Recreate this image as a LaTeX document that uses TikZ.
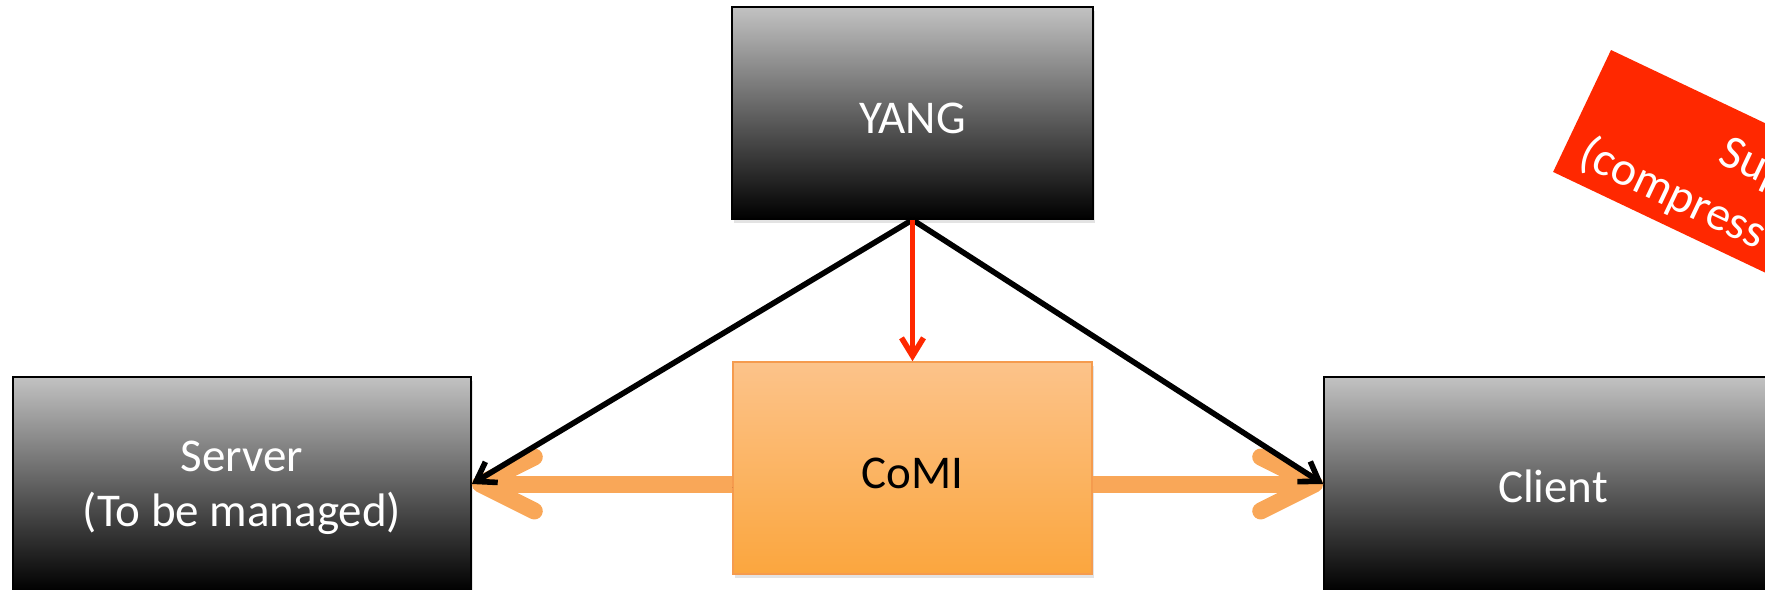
\documentclass[tikz,border=0pt]{standalone}
\usepackage{fontspec}
\setmainfont{Carlito}
\usetikzlibrary{arrows.meta,shadows}

\definecolor{boxtop}{RGB}{194,194,194}
\definecolor{comitop}{RGB}{252,195,138}
\definecolor{comibot}{RGB}{251,166,62}
\definecolor{comiedge}{RGB}{245,155,78}
\definecolor{flow}{RGB}{249,167,88}
\definecolor{alert}{RGB}{255,40,0}

\begin{document}
\begin{tikzpicture}[x=0.5pt,y=-0.5pt,
  boxfont/.style={font=\fontsize{23.5}{27.5}\selectfont},
  softshadow/.style={drop shadow={opacity=0.22, shadow xshift=0.8pt, shadow yshift=-1.8pt}},
  darkbox/.style={boxfont, draw=black, line width=0.8pt, top color=boxtop,
    bottom color=black, text=white, align=center, inner sep=0pt, softshadow},
  comibox/.style={boxfont, draw=comiedge, line width=0.8pt, top color=comitop,
    bottom color=comibot, text=black, align=center, inner sep=0pt, softshadow},
  model/.style={line width=2.8pt, draw=black, -{Straight Barb[length=9pt,width=12pt]}},
  derive/.style={line width=2.8pt, draw=alert, -{Straight Barb[length=9pt,width=11pt]}},
  flowarrow/.style={line width=8.5pt, draw=flow,
    -{Straight Barb[length=27pt,width=27pt,round]},
    preaction={draw=black, draw opacity=0.12, transform canvas={xshift=0.6pt,yshift=-1.6pt}}},
  bannertext/.style={text=white, font=\fontsize{24}{30}\selectfont, inner sep=0pt,
    rotate=-25.4, anchor=base west}
]
\useasboundingbox (0,0) rectangle (1765,589);
\clip (0,0) rectangle (1765,589);

% boxes
\node[darkbox, minimum width=180.5pt, minimum height=106pt, text height=20pt, text depth=0pt]
  (yang) at (912.5,113) {YANG};
\node[darkbox, minimum width=229pt, minimum height=107pt, text depth=-5pt] (server) at (242,484)
  {Server\\(To be managed)};
\node[darkbox, minimum width=229pt, minimum height=107pt, text height=18.4pt, text depth=0pt]
  (client) at (1553,484) {Client};
\node[comibox, minimum width=179.5pt, minimum height=106pt, text height=20pt, text depth=0pt]
  (comi) at (912.5,468) {CoMI};

% CoMI towards both ends
\draw[flowarrow] (comi.west |- client.west) -- (server.east);
\draw[flowarrow] (comi.east |- client.west) -- (client.west);

% YANG feeds everything
\draw[model] (yang.south) -- (server.east);
\draw[model] (yang.south) -- (client.west);
\draw[derive] (yang.south) -- (comi.north);

% tilted red banner
\begin{scope}[shift={(1611,50)}, rotate=-25.4]
  \fill[alert] (0,0) rectangle (560,135);
  \node[bannertext] (bannerA) at (143,56) {Sup};
  \node[bannertext] (bannerB) at (17,117.5) {(compress};
\end{scope}
\end{tikzpicture}
\end{document}
